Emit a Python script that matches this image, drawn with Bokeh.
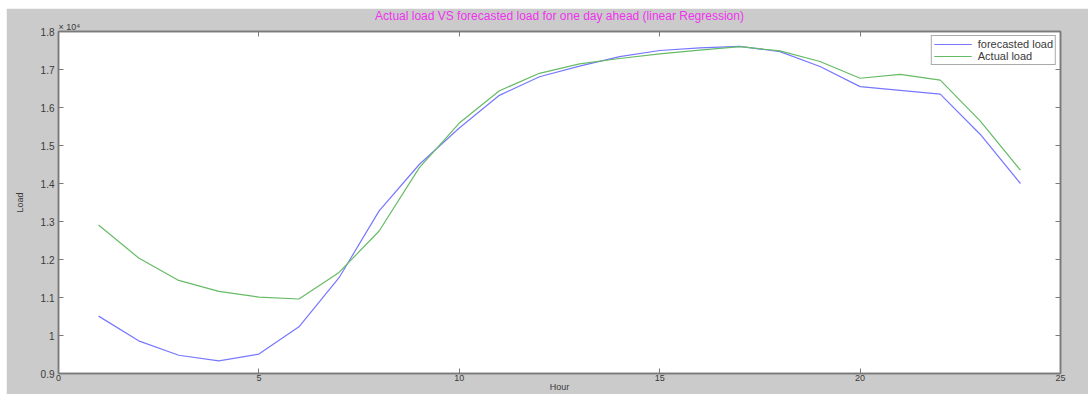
from bokeh.plotting import figure
from bokeh.models import Range1d, LinearAxis, FixedTicker, Legend, LegendItem, Title
from bokeh.embed import file_html
from bokeh.resources import INLINE

hours = list(range(1, 25))
forecasted_load = [10510, 9860, 9480, 9330, 9510, 10230, 11520, 13280, 14500, 15460,
                   16320, 16810, 17090, 17340, 17500, 17570, 17610, 17470, 17080, 16550,
                   16450, 16350, 15290, 14000]
actual_load = [12910, 12040, 11450, 11160, 11010, 10960, 11660, 12750, 14410, 15590,
               16440, 16900, 17150, 17290, 17410, 17510, 17600, 17490, 17210, 16770,
               16870, 16720, 15640, 14350]
x_ticks = [0, 5, 10, 15, 20, 25]
y_ticks = [9000, 10000, 11000, 12000, 13000, 14000, 15000, 16000, 17000, 18000]
y_tick_labels = ["0.9", "1", "1.1", "1.2", "1.3", "1.4", "1.5", "1.6", "1.7", "1.8"]
title_text = "Actual load VS forecasted load for one day ahead (linear Regression)"
scale_text = "\u00d7 10\u2074"

BG = "#cbcbcb"
AX = "#7a7a7a"
TXT = "#3a3a3a"
FONT = "Liberation Sans"

p = figure(width=1082, height=386, output_backend="svg", toolbar_location=None,
           title=None,
           x_range=Range1d(0, 25), y_range=Range1d(9000, 18000),
           min_border_left=52, min_border_right=28, min_border_top=23, min_border_bottom=21)
p.margin = (8, 0, 0, 6)
p.background_fill_color = "white"
p.border_fill_color = BG
p.outline_line_color = AX
p.outline_line_width = 1.5
p.grid.visible = False

def style_axis(ax, labels=True):
    ax.axis_line_color = AX
    ax.axis_line_width = 1.5
    ax.major_tick_line_color = AX
    ax.major_tick_in = 5
    ax.major_tick_out = 0
    ax.minor_tick_line_color = None
    ax.major_label_text_font = FONT
    ax.major_label_text_font_size = "10px"
    ax.major_label_text_color = TXT
    ax.major_label_standoff = 3
    ax.axis_label_text_font = FONT
    ax.axis_label_text_font_size = "9px"
    ax.axis_label_text_font_style = "normal"
    ax.axis_label_text_color = TXT
    ax.axis_label_standoff = 0
    if not labels:
        ax.major_label_text_color = None
        ax.major_label_standoff = 0

xa = p.xaxis[0]
xa.ticker = FixedTicker(ticks=x_ticks)
xa.axis_label = "Hour"
style_axis(xa)
xa.major_label_text_font_size = "9px"
xa.major_label_standoff = 1
xa.axis_label_standoff = -2
ya = p.yaxis[0]
ya.ticker = FixedTicker(ticks=y_ticks)
ya.major_label_overrides = {t: l for t, l in zip(y_ticks, y_tick_labels)}
ya.axis_label = "Load"
style_axis(ya)
ya.major_label_standoff = 4
ya.axis_label_standoff = 13

top = LinearAxis(ticker=FixedTicker(ticks=x_ticks))
style_axis(top, labels=False)
p.add_layout(top, "above")
right = LinearAxis(ticker=FixedTicker(ticks=y_ticks))
style_axis(right, labels=False)
p.add_layout(right, "right")

p.add_layout(Title(text=scale_text, align="left", offset=0, standoff=0,
                   text_font=FONT, text_font_size="9px", text_font_style="normal",
                   text_color=TXT), "above")
main_title = Title(text=title_text, align="center", standoff=-14,
                   text_font=FONT, text_font_size="12px", text_font_style="normal",
                   text_color="#ee33ee")
try:
    main_title.padding = 4
except Exception:
    main_title.standoff = -6
p.add_layout(main_title, "above")

r1 = p.line(hours, forecasted_load, line_color="#7777ff", line_width=1.2)
r2 = p.line(hours, actual_load, line_color="#66bb66", line_width=1.2)

legend = Legend(items=[LegendItem(label="forecasted load", renderers=[r1]),
                       LegendItem(label="Actual load", renderers=[r2])],
                location="top_right")
legend.border_line_color = "#555555"
legend.border_line_width = 1.2
legend.background_fill_color = "white"
legend.background_fill_alpha = 1
legend.label_text_font = FONT
legend.label_text_font_size = "11px"
legend.label_text_color = TXT
legend.label_height = 12
legend.glyph_height = 12
legend.glyph_width = 38
legend.spacing = 0
legend.padding = 2
legend.margin = 4
legend.label_standoff = 6
p.add_layout(legend)

open("out.html", "w").write(file_html(p, INLINE))
